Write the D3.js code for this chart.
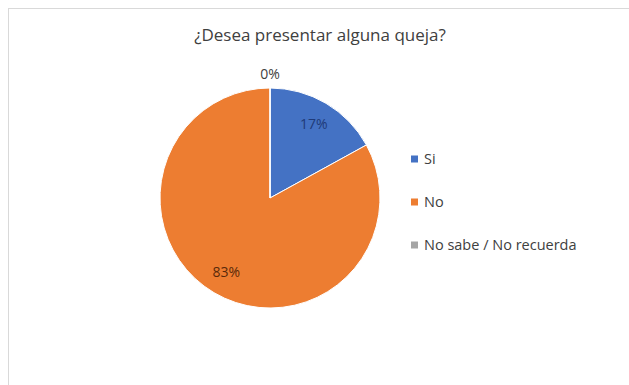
<!DOCTYPE html>
<html>
<head>
<meta charset="utf-8">
<script src="https://cdn.jsdelivr.net/npm/d3@7"></script>
<style>
  html, body { margin: 0; padding: 0; background: #ffffff; }
  svg { display: block; }
</style>
</head>
<body>
<svg id="chart" width="629" height="385"></svg>
<script>
// Survey answers to "¿Desea presentar alguna queja?"
const categories = ["Si", "No", "No sabe / No recuerda"];
const values = [17, 83, 0];
const colors = ["#4472C4", "#ED7D31", "#A5A5A5"];
const labelColors = ["#1f3a78", "#5a2a0a", "#404040"];
const title = "¿Desea presentar alguna queja?";

const svg = d3.select("#chart");
const W = 629, H = 385;
const font = "'Open Sans', 'Noto Sans', 'Liberation Sans', sans-serif";

// chart frame
svg.append("rect")
  .attr("x", 8.5).attr("y", 8.5)
  .attr("width", W + 20).attr("height", H - 3)
  .attr("fill", "#ffffff")
  .attr("stroke", "#d9d9d9").attr("stroke-width", 1);

svg.append("text")
  .attr("x", 320).attr("y", 41)
  .attr("text-anchor", "middle")
  .attr("font-family", font)
  .attr("font-size", 17)
  .attr("fill", "#404040")
  .text(title);

const cx = 270, cy = 198, R = 110;
const g = svg.append("g").attr("transform", `translate(${cx},${cy})`);

const pie = d3.pie().sort(null).value(d => d)(values);
const arc = d3.arc().innerRadius(0).outerRadius(R);

g.selectAll("path.slice")
  .data(pie)
  .enter().append("path")
  .attr("class", "slice")
  .attr("d", arc)
  .attr("fill", (d, i) => colors[i])
  .attr("stroke", "#ffffff")
  .attr("stroke-width", 1);

// data labels at the slice mid-angle; empty slices sit just outside the rim
const fmt = v => Math.round(v / d3.sum(values) * 100) + "%";

g.selectAll("text.lbl")
  .data(pie)
  .enter().append("text")
  .attr("class", "lbl")
  .attr("transform", d => {
    const a = (d.startAngle + d.endAngle) / 2;
    const rr = d.value > 0 ? R * 0.78 : R + 14;
    return `translate(${rr * Math.sin(a)},${-rr * Math.cos(a)})`;
  })
  .attr("text-anchor", "middle")
  .attr("dy", "0.35em")
  .attr("font-family", font)
  .attr("font-size", 14)
  .attr("fill", (d, i) => labelColors[i])
  .text(d => fmt(d.value));

// legend
const lg = svg.append("g").attr("transform", "translate(411,159)");
const item = lg.selectAll("g")
  .data(categories)
  .enter().append("g")
  .attr("transform", (d, i) => `translate(0,${i * 43})`);
item.append("rect")
  .attr("x", 0).attr("y", -3.5)
  .attr("width", 7).attr("height", 7)
  .attr("fill", (d, i) => colors[i]);
item.append("text")
  .attr("x", 13).attr("y", 0)
  .attr("dy", "0.35em")
  .attr("font-family", font)
  .attr("font-size", 14.5)
  .attr("fill", "#404040")
  .text(d => d);
</script>
</body>
</html>
